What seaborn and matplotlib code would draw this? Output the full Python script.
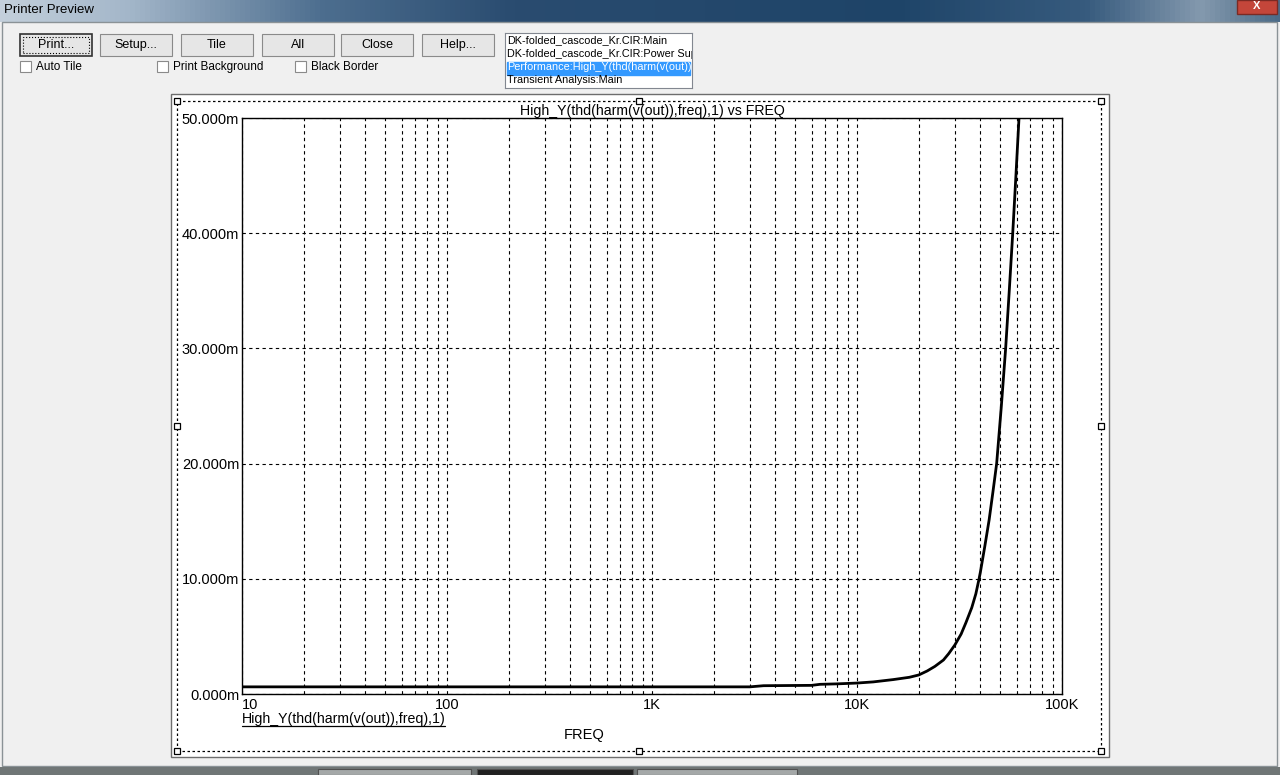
import numpy as np
import pandas as pd
import matplotlib
matplotlib.use("Agg")
import matplotlib.pyplot as plt
from matplotlib.patches import Rectangle
from matplotlib.colors import LinearSegmentedColormap
import seaborn as sns

# THD vs frequency
freq = [10, 100, 1000, 3000, 3500, 6000, 6600, 8000, 10000, 12000, 15000,
        18000, 20000, 22000, 24000, 26400, 28000, 30000, 32200, 34000, 36300,
        38000, 39400, 40000, 42000, 44100, 46000, 48000, 50600, 53100, 55300,
        57500, 59600, 61700, 63500]
thd_m = [0.62, 0.62, 0.62, 0.62, 0.72, 0.75, 0.84, 0.88, 0.95, 1.05, 1.25,
         1.45, 1.65, 2.00, 2.40, 2.95, 3.50, 4.25, 5.20, 6.20, 7.50,
         8.70, 10.0, 10.6, 12.8, 15.1, 17.5, 20.0, 25.0, 30.0, 35.0,
         40.0, 45.0, 50.0, 55.0]

y_ticks = [0, 10, 20, 30, 40, 50]
y_labels = ["0.000m", "10.000m", "20.000m", "30.000m", "40.000m", "50.000m"]
x_ticks = [10, 100, 1000, 10000, 100000]
x_labels = ["10", "100", "1K", "10K", "100K"]

buttons = ["Print...", "Setup...", "Tile", "All", "Close", "Help..."]
button_x = [20, 100, 181, 262, 341, 422]
checks = ["Auto Tile", "Print Background", "Black Border"]
check_x = [20, 157, 295]
list_items = ["DK-folded_cascode_Kr.CIR:Main",
              "DK-folded_cascode_Kr.CIR:Power Supply",
              "Performance:High_Y(thd(harm(v(out)),freq),1)",
              "Transient Analysis:Main"]

df = pd.DataFrame({"FREQ": freq, "THD": thd_m})

sns.set_style("white")
plt.rcParams["font.family"] = ["Liberation Sans", "DejaVu Sans"]
plt.rcParams["text.color"] = "black"
plt.rcParams["xtick.color"] = "black"
plt.rcParams["ytick.color"] = "black"

W, H = 1280, 775
fig = plt.figure(figsize=(12.8, 7.75), dpi=100)
fig.patch.set_facecolor("#f0f0f0")


def box(x, y, w, h):
    # pixel box -> figure rect
    return [x / W, 1 - (y + h) / H, w / W, h / H]


def rect(x, y, w, h, **kw):
    kw.setdefault("zorder", 1)
    r = Rectangle((x / W, 1 - (y + h) / H), w / W, h / H,
                  transform=fig.transFigure, **kw)
    fig.add_artist(r)
    return r


def text(x, y, s, **kw):
    kw.setdefault("color", "black")
    fig.text(x / W, 1 - y / H, s, zorder=6, **kw)


# title bar
tb = fig.add_axes(box(0, 0, W, 22))
tb_cmap = LinearSegmentedColormap.from_list(
    "tb", [(0, "#c3cfdb"), (0.1, "#a3b6c9"), (0.25, "#4d6e8f"), (0.4, "#2a4c70"),
           (0.7, "#1e4468"), (0.85, "#375b7e"), (0.94, "#8499ae"), (1, "#4c6b88")])
tb.imshow(np.linspace(0, 1, 256)[None, :], aspect="auto", cmap=tb_cmap,
          extent=[0, 1, 0, 1])
tb.axis("off")
text(4, 10, "Printer Preview", fontsize=9.5, va="center")
rect(1237, 0, 40, 14, facecolor="#c4463a", edgecolor="#7a2a24", lw=1, zorder=5)
text(1257, 6, "X", fontsize=8, ha="center", va="center", color="white",
     fontweight="bold")

# window body border and taskbar
rect(2, 22, 1275, 744, facecolor="#f0f0f0", edgecolor="#8a9296", lw=1)
rect(0, 767, W, 8, facecolor="#707676", edgecolor="none")
rect(318, 769, 153, 6, facecolor="#a4a8a8", edgecolor="#505050", lw=0.8)
rect(477, 769, 156, 6, facecolor="#202020", edgecolor="#505050", lw=0.8)
rect(637, 769, 160, 6, facecolor="#a4a8a8", edgecolor="#505050", lw=0.8)

# buttons
for i, (lab, bx) in enumerate(zip(buttons, button_x)):
    rect(bx, 34, 72, 22, facecolor="#e6e6e6",
         edgecolor="#333333" if i == 0 else "#8a8a8a", lw=1.2 if i == 0 else 0.8)
    if i == 0:
        rect(bx + 3, 37, 66, 16, facecolor="none", edgecolor="black",
             lw=0.8, linestyle=":")
    text(bx + 36, 45, lab, fontsize=9, ha="center", va="center")

for lab, cx in zip(checks, check_x):
    rect(cx, 61, 11, 11, facecolor="white", edgecolor="#8a8a8a", lw=0.8)
    text(cx + 16, 67, lab, fontsize=8.5, va="center")

# list box
lb = fig.add_axes(box(505, 33, 187, 55))
lb.set_zorder(4)
lb.set_xlim(0, 187)
lb.set_ylim(55, 0)
lb.set_xticks([])
lb.set_yticks([])
for s in lb.spines.values():
    s.set_color("#828790")
lb.axhspan(28.5, 41.5, xmin=0.01, xmax=0.99, color="#3399ff")
for j, item in enumerate(list_items):
    lb.text(2, 7.5 + j * 13.3, item, fontsize=7.8, va="center", clip_on=True,
            color="white" if j == 2 else "black")

# page area
rect(171, 94, 938, 663, facecolor="white", edgecolor="#6d6d6d", lw=1)
rect(177, 101, 924, 650, facecolor="none", edgecolor="black", lw=0.9,
     linestyle=(0, (2, 2)))
for hx in [177, 639, 1101]:
    for hy in [101, 426, 751]:
        if hx == 639 and hy == 426:
            continue
        rect(hx - 3, hy - 3, 6, 6, facecolor="white", edgecolor="black", lw=0.9,
             zorder=5)

# the plot
ax = fig.add_axes(box(242, 118, 820, 576))
ax.set_zorder(4)
sns.lineplot(data=df, x="FREQ", y="THD", ax=ax, color="black", linewidth=2)
ax.set_xscale("log")
ax.set_xlim(10, 100000)
ax.set_ylim(0, 50)
ax.set_yticks(y_ticks)
ax.set_yticklabels(y_labels)
ax.set_xticks(x_ticks)
ax.set_xticklabels(x_labels)
ax.xaxis.set_minor_locator(matplotlib.ticker.LogLocator(base=10, subs=range(2, 10)))
ax.xaxis.set_minor_formatter(matplotlib.ticker.NullFormatter())
ax.grid(True, which="both", axis="x", color="black", linestyle=(0, (3, 3)), lw=0.8)
ax.grid(True, which="major", axis="y", color="black", linestyle=(0, (3, 3)), lw=0.8)
ax.tick_params(which="both", length=0, labelsize=10.5, labelcolor="black")
ax.tick_params(axis="y", pad=2)
ax.tick_params(axis="x", pad=3)
ax.get_xticklabels()[0].set_horizontalalignment("left")
ax.set_xlabel("")
ax.set_ylabel("")
for s in ax.spines.values():
    s.set_color("black")
    s.set_linewidth(1)
ax.set_title("High_Y(thd(harm(v(out)),freq),1) vs FREQ", fontsize=10.2, pad=2,
             color="black")

text(242, 719, "High_Y(thd(harm(v(out)),freq),1)", fontsize=10.2, va="center")
fig.add_artist(plt.Line2D([242 / W, 445 / W], [1 - 726 / H, 1 - 726 / H],
                          color="black", lw=0.9, transform=fig.transFigure,
                          zorder=6))
text(584, 735, "FREQ", fontsize=10.5, ha="center", va="center")

fig.savefig("out.png", dpi=100, facecolor=fig.get_facecolor())
